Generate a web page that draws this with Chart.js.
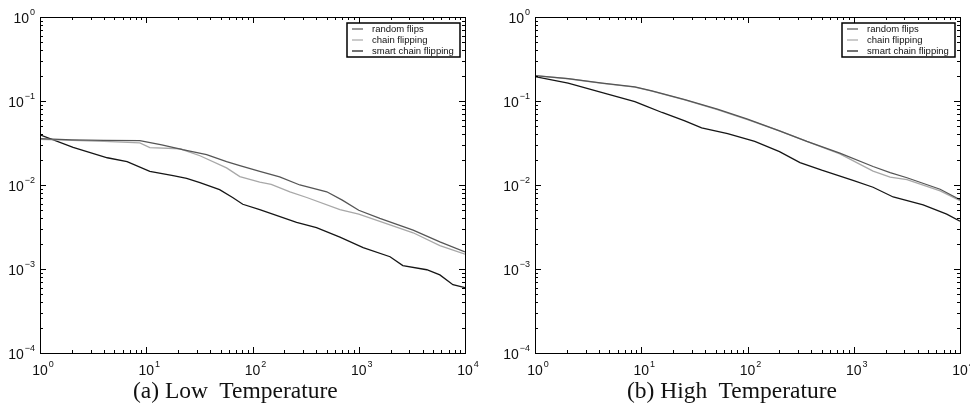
<!DOCTYPE html>
<html>
<head>
<meta charset="utf-8">
<script src="https://cdn.jsdelivr.net/npm/chart.js@4.4.0/dist/chart.umd.min.js"></script>
<style>
  body { margin: 0; background: #fff; width: 970px; height: 409px; position: relative; overflow: hidden; }
  .panel { position: absolute; top: 0; }
  .caption { position: absolute; top: 377px; font-family: "Liberation Serif", serif; font-size: 23.5px; color: #111; white-space: pre; }
</style>
</head>
<body>
<div class="panel" style="left:0"><canvas id="lowChart" width="480" height="380"></canvas></div>
<div class="panel" style="left:490px"><canvas id="highChart" width="480" height="380"></canvas></div>
<div class="caption" style="left:133px">(a) Low  Temperature</div>
<div class="caption" style="left:627px">(b) High  Temperature</div>
<script>
const seriesNames = ["random flips", "chain flipping", "smart chain flipping"];
const seriesColors = ["#555555", "#a8a8a8", "#151515"];
const decades = [0, 1, 2, 3, 4];
const yDecades = [-4, -3, -2, -1, 0];

// low temperature
const lowRandomX = [1, 2, 4, 8.7, 14, 22, 37, 57, 76, 117, 180, 279, 500, 700, 1000, 1580, 3250, 5800, 10000];
const lowRandomY = [0.0356, 0.0345, 0.034, 0.0338, 0.030, 0.0263, 0.023, 0.019, 0.017, 0.0145, 0.0125, 0.0100, 0.0083, 0.0066, 0.0050, 0.0040, 0.0029, 0.0021, 0.0016];
const lowChainX = [1, 2, 4, 8.7, 10.8, 20.8, 32, 57, 76, 117, 150, 225, 324, 665, 1000, 1580, 3250, 5800, 10000];
const lowChainY = [0.035, 0.034, 0.033, 0.0318, 0.0278, 0.027, 0.0223, 0.016, 0.0126, 0.0108, 0.0102, 0.0083, 0.0071, 0.0051, 0.0045, 0.0037, 0.0027, 0.0019, 0.0015];
const lowSmartX = [1, 2.05, 4.3, 6.6, 10.8, 17.9, 24, 32, 49, 65, 81, 117, 260, 400, 665, 1100, 1970, 2600, 4370, 5800, 7700, 10000];
const lowSmartY = [0.0396, 0.028, 0.0211, 0.019, 0.0145, 0.0129, 0.012, 0.0107, 0.0088, 0.0071, 0.0059, 0.0051, 0.0036, 0.0031, 0.0024, 0.0018, 0.0014, 0.0011, 0.00098, 0.00085, 0.00065, 0.0006];

// high temperature
const highRandomX = [1, 2.05, 4.3, 8.7, 12.6, 25.7, 52, 100, 200, 362, 740, 1520, 2200, 3170, 6500, 10000];
const highRandomY = [0.20, 0.185, 0.163, 0.147, 0.132, 0.104, 0.080, 0.061, 0.044, 0.033, 0.024, 0.0166, 0.014, 0.0122, 0.0089, 0.0067];
const highChainX = [1, 2.05, 4.3, 8.7, 12.6, 25.7, 52, 100, 200, 362, 740, 1520, 2200, 3170, 6500, 10000];
const highChainY = [0.20, 0.184, 0.162, 0.146, 0.131, 0.103, 0.079, 0.060, 0.044, 0.033, 0.0235, 0.0146, 0.0124, 0.0116, 0.0085, 0.0065];
const highSmartX = [1, 2.05, 4.3, 8.7, 10.8, 15.7, 25.7, 37, 65, 117, 200, 312, 500, 1000, 1520, 2350, 4500, 7500, 10000];
const highSmartY = [0.195, 0.163, 0.126, 0.098, 0.088, 0.073, 0.058, 0.048, 0.041, 0.033, 0.025, 0.0185, 0.015, 0.0113, 0.0094, 0.0072, 0.0058, 0.0045, 0.0037];

function pts(xs, ys) { return xs.map((x, i) => ({ x: x, y: ys[i] })); }

const axesPlugin = {
  id: "axesPlugin",
  afterDraw(chart) {
    const ctx = chart.ctx;
    const a = chart.chartArea;
    const xs = chart.scales.x, ys = chart.scales.y;
    ctx.save();
    ctx.strokeStyle = "#000";
    ctx.lineWidth = 1;
    ctx.strokeRect(Math.round(a.left) + 0.5, Math.round(a.top) + 0.5, Math.round(a.right - a.left), Math.round(a.bottom - a.top));
    ctx.beginPath();
    decades.forEach(d => {
      for (let m = 1; m <= 9; m++) {
        const v = m * Math.pow(10, d);
        if (v > 10000) break;
        const px = Math.round(xs.getPixelForValue(v)) + 0.5;
        const len = m === 1 ? 6 : 3;
        ctx.moveTo(px, a.bottom); ctx.lineTo(px, a.bottom - len);
        ctx.moveTo(px, a.top); ctx.lineTo(px, a.top + len);
      }
    });
    yDecades.forEach(d => {
      for (let m = 1; m <= 9; m++) {
        const v = m * Math.pow(10, d);
        if (v > 1) break;
        const py = Math.round(ys.getPixelForValue(v)) + 0.5;
        const len = m === 1 ? 6 : 3;
        ctx.moveTo(a.left, py); ctx.lineTo(a.left + len, py);
        ctx.moveTo(a.right, py); ctx.lineTo(a.right - len, py);
      }
    });
    ctx.stroke();

    ctx.fillStyle = "#111";
    ctx.textBaseline = "alphabetic";
    ctx.textAlign = "left";
    const baseFont = "14px 'Liberation Sans', Arial, sans-serif";
    const expFont = "9px 'Liberation Sans', Arial, sans-serif";
    function label(exp, x, y, align) {
      ctx.font = baseFont;
      const bw = ctx.measureText("10").width;
      ctx.font = expFont;
      const es = String(exp).replace("-", "\u2212");
      const ew = ctx.measureText(es).width;
      // x labels: "10" centred on the tick, exponent hangs to the right
      const left = align === "center" ? x - bw / 2 : x - (bw + ew + 1);
      ctx.font = baseFont;
      ctx.fillText("10", left, y);
      ctx.font = expFont;
      ctx.fillText(es, left + bw + 1, y - 8);
    }
    decades.forEach(d => {
      label(d, xs.getPixelForValue(Math.pow(10, d)), a.bottom + 22, "center");
    });
    yDecades.forEach(d => {
      label(d, a.left - 5, ys.getPixelForValue(Math.pow(10, d)) + 6, "right");
    });

    // legend box
    const lb = chart.options.plugins.legendBox;
    ctx.fillStyle = "#fff";
    ctx.fillRect(lb.left, lb.top, lb.width, lb.height);
    ctx.lineWidth = 1.5;
    ctx.strokeStyle = "#000";
    ctx.strokeRect(lb.left, lb.top, lb.width, lb.height);
    ctx.font = "9.5px 'Liberation Sans', Arial, sans-serif";
    ctx.textBaseline = "middle";
    chart.data.datasets.forEach((ds, i) => {
      const yy = lb.top + 6 + i * 11;
      ctx.strokeStyle = ds.borderColor;
      ctx.lineWidth = 1.2;
      ctx.beginPath();
      ctx.moveTo(lb.left + 5, yy); ctx.lineTo(lb.left + 16, yy);
      ctx.stroke();
      ctx.fillStyle = "#111";
      ctx.fillText(ds.label, lb.left + 25, yy);
    });
    ctx.restore();
  }
};

function makeChart(id, series, yAxisWidth, rightPad, legendBox) {
  new Chart(document.getElementById(id).getContext("2d"), {
    type: "line",
    data: {
      datasets: series.map((s, i) => ({
        label: seriesNames[i],
        data: pts(s[0], s[1]),
        borderColor: seriesColors[i],
        backgroundColor: "transparent",
        borderWidth: 1.3,
        pointRadius: 0,
        tension: 0
      }))
    },
    options: {
      responsive: false,
      animation: false,
      layout: { padding: { top: 17, right: rightPad, left: 0, bottom: 0 } },
      plugins: { legend: { display: false }, tooltip: { enabled: false }, legendBox: legendBox },
      scales: {
        x: {
          type: "logarithmic", min: 1, max: 10000,
          grid: { display: false }, border: { display: false },
          ticks: { display: false },
          afterFit(scale) { scale.height = 27; }
        },
        y: {
          type: "logarithmic", min: 0.0001, max: 1,
          grid: { display: false }, border: { display: false },
          ticks: { display: false },
          afterFit(scale) { scale.width = yAxisWidth; }
        }
      }
    },
    plugins: [axesPlugin]
  });
}

makeChart("lowChart", [[lowRandomX, lowRandomY], [lowChainX, lowChainY], [lowSmartX, lowSmartY]], 40, 15,
  { left: 347, top: 23, width: 113, height: 34 });
makeChart("highChart", [[highRandomX, highRandomY], [highChainX, highChainY], [highSmartX, highSmartY]], 45, 10,
  { left: 352, top: 23, width: 113, height: 34 });
</script>
</body>
</html>
